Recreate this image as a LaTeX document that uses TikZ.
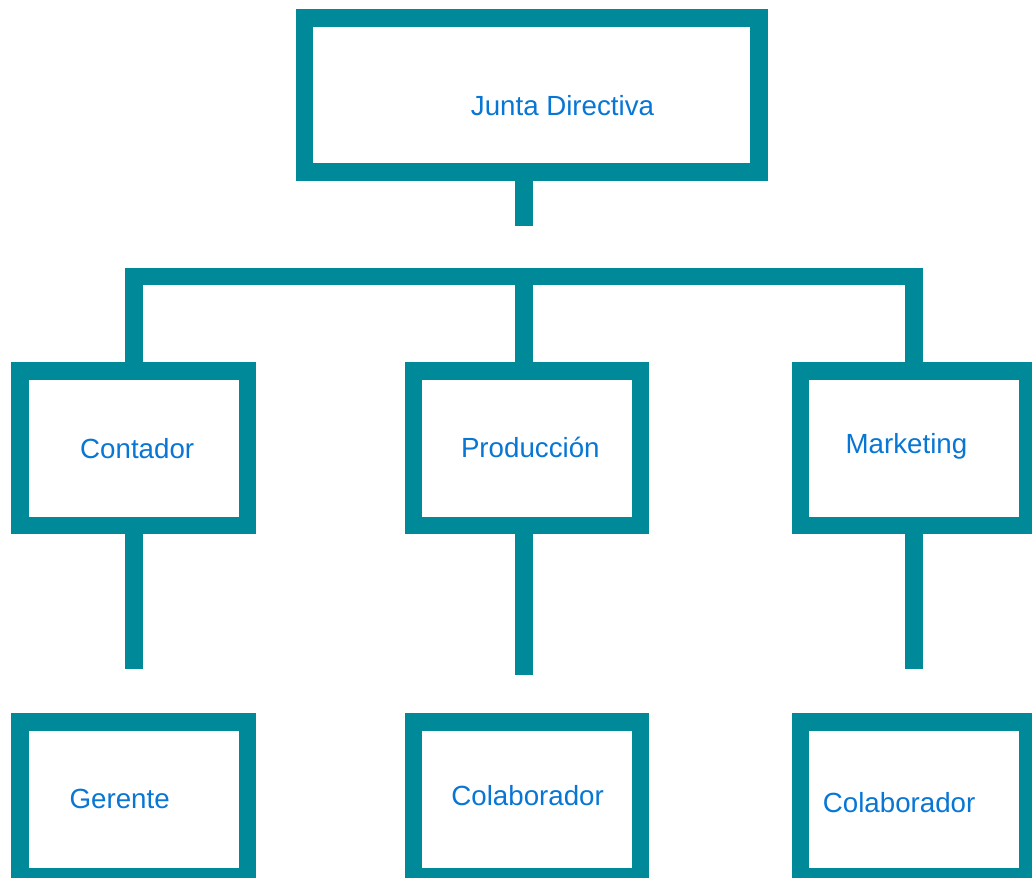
\documentclass[tikz,border=0pt]{standalone}
\usepackage{fontspec}
\setmainfont{Liberation Sans}
\definecolor{teal1}{RGB}{0,138,153}
\definecolor{txtblue}{RGB}{8,118,212}
\begin{document}
\begin{tikzpicture}[x=1pt,y=-1pt,
  box/.style={draw=teal1,line width=17.5pt,rectangle,inner sep=0pt,minimum width=#1,minimum height=154.5pt},
  conn/.style={draw=teal1,line width=17.5pt},
  lbl/.style={anchor=base west,inner sep=0pt,text=txtblue,font=\fontsize{27.7}{33}\selectfont}]
\clip (0,0) rectangle (1032,877);
\fill[white] (0,0) rectangle (1032,877);
% boxes
\node[box=454.5pt,minimum height=154pt] (jd) at (531.75,95) {};
\node[box=227.5pt] (cont) at (133.75,448.25) {};
\node[box=227pt] (prod) at (527,448.25) {};
\node[box=227pt] (mark) at (913.9,448.25) {};
\node[box=227.5pt] (ger) at (133.75,799.25) {};
\node[box=227pt] (col1) at (527,799.25) {};
\node[box=227pt] (col2) at (913.9,799.25) {};
% labels
\node[lbl] (tjd) at (470.7,115.7) {Junta Directiva};
\node[lbl] (tcont) at (80,458.3) {Contador};
\node[lbl] (tprod) at (460.8,457.3) {Producción};
\node[lbl] (tmark) at (845.4,453.5) {Marketing};
\node[lbl] (tger) at (69.4,808) {Gerente};
\node[lbl] (tcol1) at (451.2,805.7) {Colaborador};
\node[lbl] (tcol2) at (822.7,812.3) {Colaborador};
% connector coordinates
\coordinate (jdend) at (524,225.7);
\coordinate (barmid) at (524,276.5);
\coordinate (cend) at (134,669.3);
\coordinate (pend) at (524,675);
\coordinate (mend) at (914,669.3);
% connectors
\draw[conn] (jdend |- jd.south) -- (jdend);
\draw[conn] (cont.north) |- (barmid) -| (mark.north);
\draw[conn] (barmid) -- (barmid |- prod.north);
\draw[conn] (cend |- cont.south) -- (cend);
\draw[conn] (pend |- prod.south) -- (pend);
\draw[conn] (mend |- mark.south) -- (mend);
\end{tikzpicture}
\end{document}
